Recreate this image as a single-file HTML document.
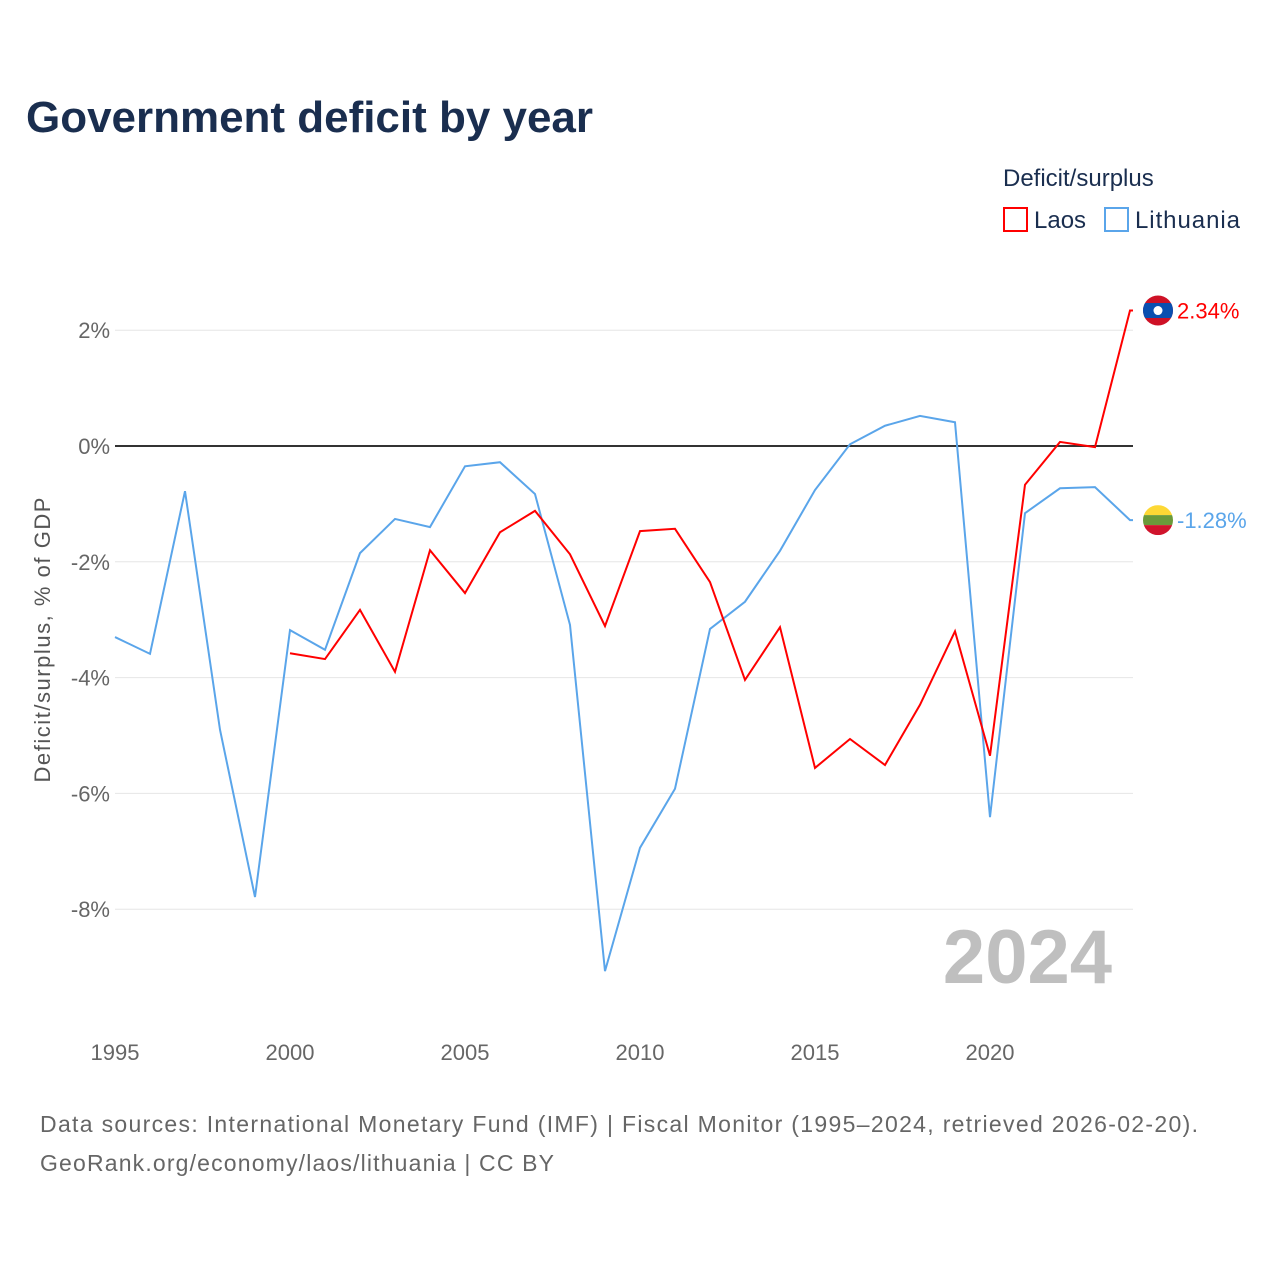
<!DOCTYPE html>
<html><head><meta charset="utf-8"><style>
body{margin:0;background:#fff;font-family:"Liberation Sans",sans-serif;}
svg text{font-family:"Liberation Sans",sans-serif;}
</style></head><body>
<svg id="c" width="1280" height="1280" xmlns="http://www.w3.org/2000/svg">
<defs><clipPath id="cl1"><circle id="c1" cx="1158" cy="310" r="15"/></clipPath><clipPath id="cl"><circle id="c2" cx="1158" cy="520" r="15"/></clipPath></defs>
<text x="26" y="132" font-size="44" font-weight="bold" fill="#1a2e4f" textLength="567">Government deficit by year</text>
<text x="1003" y="186" font-size="24" fill="#1a2e4f">Deficit/surplus</text>
<g><rect x="1004" y="208" width="23" height="23" fill="none" stroke="#f00" stroke-width="2"/><text x="1034" y="228" font-size="24" fill="#1a2e4f">Laos</text></g>
<g><rect x="1105" y="208" width="23" height="23" fill="none" stroke="#5aa5ea" stroke-width="2"/><text x="1135" y="228" font-size="24" fill="#1a2e4f" textLength="105">Lithuania</text></g>
<g id="grid"></g><g id="series"></g>
<text x="1112" y="983" text-anchor="end" font-size="76" font-weight="bold" fill="#bfbfbf">2024</text>
<text transform="translate(50,640) rotate(-90)" text-anchor="middle" font-size="22" fill="#555" textLength="285">Deficit/surplus, % of GDP</text>
<text x="40" y="1132" font-size="23" fill="#666" textLength="1158">Data sources: International Monetary Fund (IMF) | Fiscal Monitor (1995–2024, retrieved 2026-02-20).</text>
<text x="40" y="1171" font-size="23" fill="#666" textLength="514">GeoRank.org/economy/laos/lithuania | CC BY</text>
</svg>
<script>
const years=[];for(let y=1995;y<=2024;y++)years.push(y);
const lithuania=[-3.30,-3.59,-0.78,-4.9,-7.79,-3.18,-3.52,-1.85,-1.26,-1.40,-0.35,-0.28,-0.83,-3.09,-9.07,-6.94,-5.92,-3.16,-2.69,-1.81,-0.76,0.03,0.35,0.52,0.41,-6.41,-1.16,-0.73,-0.71,-1.28];
const laosYears=[];for(let y=2000;y<=2024;y++)laosYears.push(y);
const laos=[-3.58,-3.68,-2.83,-3.90,-1.80,-2.54,-1.49,-1.12,-1.87,-3.11,-1.47,-1.43,-2.35,-4.04,-3.13,-5.56,-5.06,-5.51,-4.47,-3.20,-5.35,-0.67,0.07,-0.02,2.34];
const yTicks=[2,0,-2,-4,-6,-8];
const xTicks=[1995,2000,2005,2010,2015,2020];
const ns="http://www.w3.org/2000/svg";
const X=y=>115+(y-1995)*35;
const Y=v=>446-v*57.9;
function mk(t,a,p){const e=document.createElementNS(ns,t);for(const k in a)e.setAttribute(k,a[k]);p.appendChild(e);return e;}
const g=document.getElementById('grid'),s=document.getElementById('series');
yTicks.forEach(v=>{
 const l=mk('line',{x1:115,x2:1133,y1:Y(v),y2:Y(v),stroke:v===0?'#333':'#e6e6e6','stroke-width':v===0?2:1},g);
 
 
 const t=mk('text',{x:110,y:Y(v)+8,'text-anchor':'end','font-size':22,fill:'#666'},g);t.textContent=v+'%';
 
 
});
xTicks.forEach(v=>{
 const t=mk('text',{x:X(v),y:1060,'text-anchor':'middle','font-size':22,fill:'#666'},g);t.textContent=v;
 
 
});
function line(xs,vs,c,name){
 const p=mk('polyline',{points:xs.map((x,i)=>X(x)+','+Y(vs[i])).join(' ')+' '+(X(2024)+3)+','+Y(vs[vs.length-1]),fill:'none',stroke:c,'stroke-width':2},s);
 
 
}
line(years,lithuania,'#5aa5ea','lithuania-line');
line(laosYears,laos,'#f00','laos-line');
const lv=laos[laos.length-1],tv=lithuania[lithuania.length-1];
document.getElementById('c1').setAttribute('cy',Y(lv));
document.getElementById('c2').setAttribute('cy',Y(tv));
const f1=mk('g',{'clip-path':'url(#cl1)'},s);


mk('rect',{x:1143,y:Y(lv)-15,width:30,height:30,fill:'#ce1126'},f1);
mk('rect',{x:1143,y:Y(lv)-7.5,width:30,height:15,fill:'#0a4fb0'},f1);
mk('circle',{cx:1158,cy:Y(lv),r:4.5,fill:'#fff'},f1);
const t1=mk('text',{x:1177,y:Y(lv)+8,'font-size':22,fill:'#f00'},s);t1.textContent=lv.toFixed(2)+'%';


const f2=mk('g',{'clip-path':'url(#cl)'},s);


mk('rect',{x:1143,y:Y(tv)-15,width:30,height:10,fill:'#fdd835'},f2);
mk('rect',{x:1143,y:Y(tv)-5,width:30,height:10,fill:'#6a9a3a'},f2);
mk('rect',{x:1143,y:Y(tv)+5,width:30,height:10,fill:'#d0142c'},f2);
const t2=mk('text',{x:1177,y:Y(tv)+8,'font-size':22,fill:'#5aa5ea'},s);t2.textContent=tv.toFixed(2)+'%';


</script>
</body></html>
